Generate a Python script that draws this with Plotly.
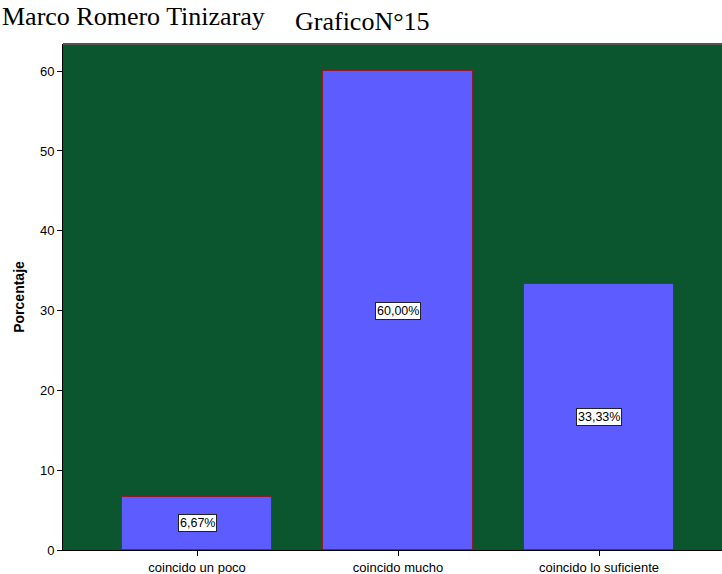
import plotly.graph_objects as go

# Chart data
categories = ["coincido un poco", "coincido mucho", "coincido lo suficiente"]
percentages = [6.67, 60.00, 33.33]
value_labels = ["6,67%", "60,00%", "33,33%"]
y_ticks = [0, 10, 20, 30, 40, 50, 60]

x_pos = list(range(len(categories)))

fig = go.Figure()
fig.add_trace(go.Bar(
    x=x_pos,
    y=percentages,
    width=0.75,
    marker=dict(color="#5c5cff", line=dict(color="#8b1c2c", width=1)),
    hoverinfo="skip",
))

# Value boxes centred on each bar
for xi, v, lab in zip(x_pos, percentages, value_labels):
    fig.add_annotation(
        x=xi, y=v / 2, text=lab, showarrow=False,
        font=dict(family="Liberation Sans, Arial", size=12.5, color="black"),
        bgcolor="white", bordercolor="#222222", borderwidth=1, borderpad=1,
    )

# Header texts
fig.add_annotation(
    xref="paper", yref="paper", x=-0.096, y=1.087, xanchor="left", yanchor="top",
    text="Marco Romero Tinizaray", showarrow=False,
    font=dict(family="Liberation Serif, Times New Roman", size=26, color="black"),
)
fig.add_annotation(
    xref="paper", yref="paper", x=0.455, y=1.045, xanchor="center", yanchor="middle",
    text="GraficoN°15", showarrow=False,
    font=dict(family="Liberation Serif, Times New Roman", size=26, color="black"),
)

# Grey frame line along the top of the plot area
fig.add_shape(type="line", xref="paper", yref="paper", x0=0, x1=1, y0=1, y1=1,
              line=dict(color="#555555", width=2))

fig.update_layout(
    width=722, height=574,
    margin=dict(l=63, r=0, t=44, b=24),
    paper_bgcolor="white",
    plot_bgcolor="#0b552f",
    showlegend=False,
    bargap=0,
    xaxis=dict(
        range=[-0.667, 2.612],
        tickvals=x_pos, ticktext=categories,
        ticks="outside", ticklen=5, tickcolor="black",
        showline=True, linecolor="black", linewidth=1,
        showgrid=False, zeroline=False,
        tickfont=dict(family="Liberation Sans, Arial", size=13, color="black"),
    ),
    yaxis=dict(
        range=[0, 63.4],
        tickvals=y_ticks,
        ticks="outside", ticklen=5, tickcolor="black",
        showline=True, linecolor="black", linewidth=1,
        showgrid=False, zeroline=False,
        tickfont=dict(family="Liberation Sans, Arial", size=13, color="black"),
        title=dict(text="<b>Porcentaje</b>", standoff=12,
                   font=dict(family="Liberation Sans, Arial", size=14, color="black")),
    ),
)

fig.write_html("out.html")
